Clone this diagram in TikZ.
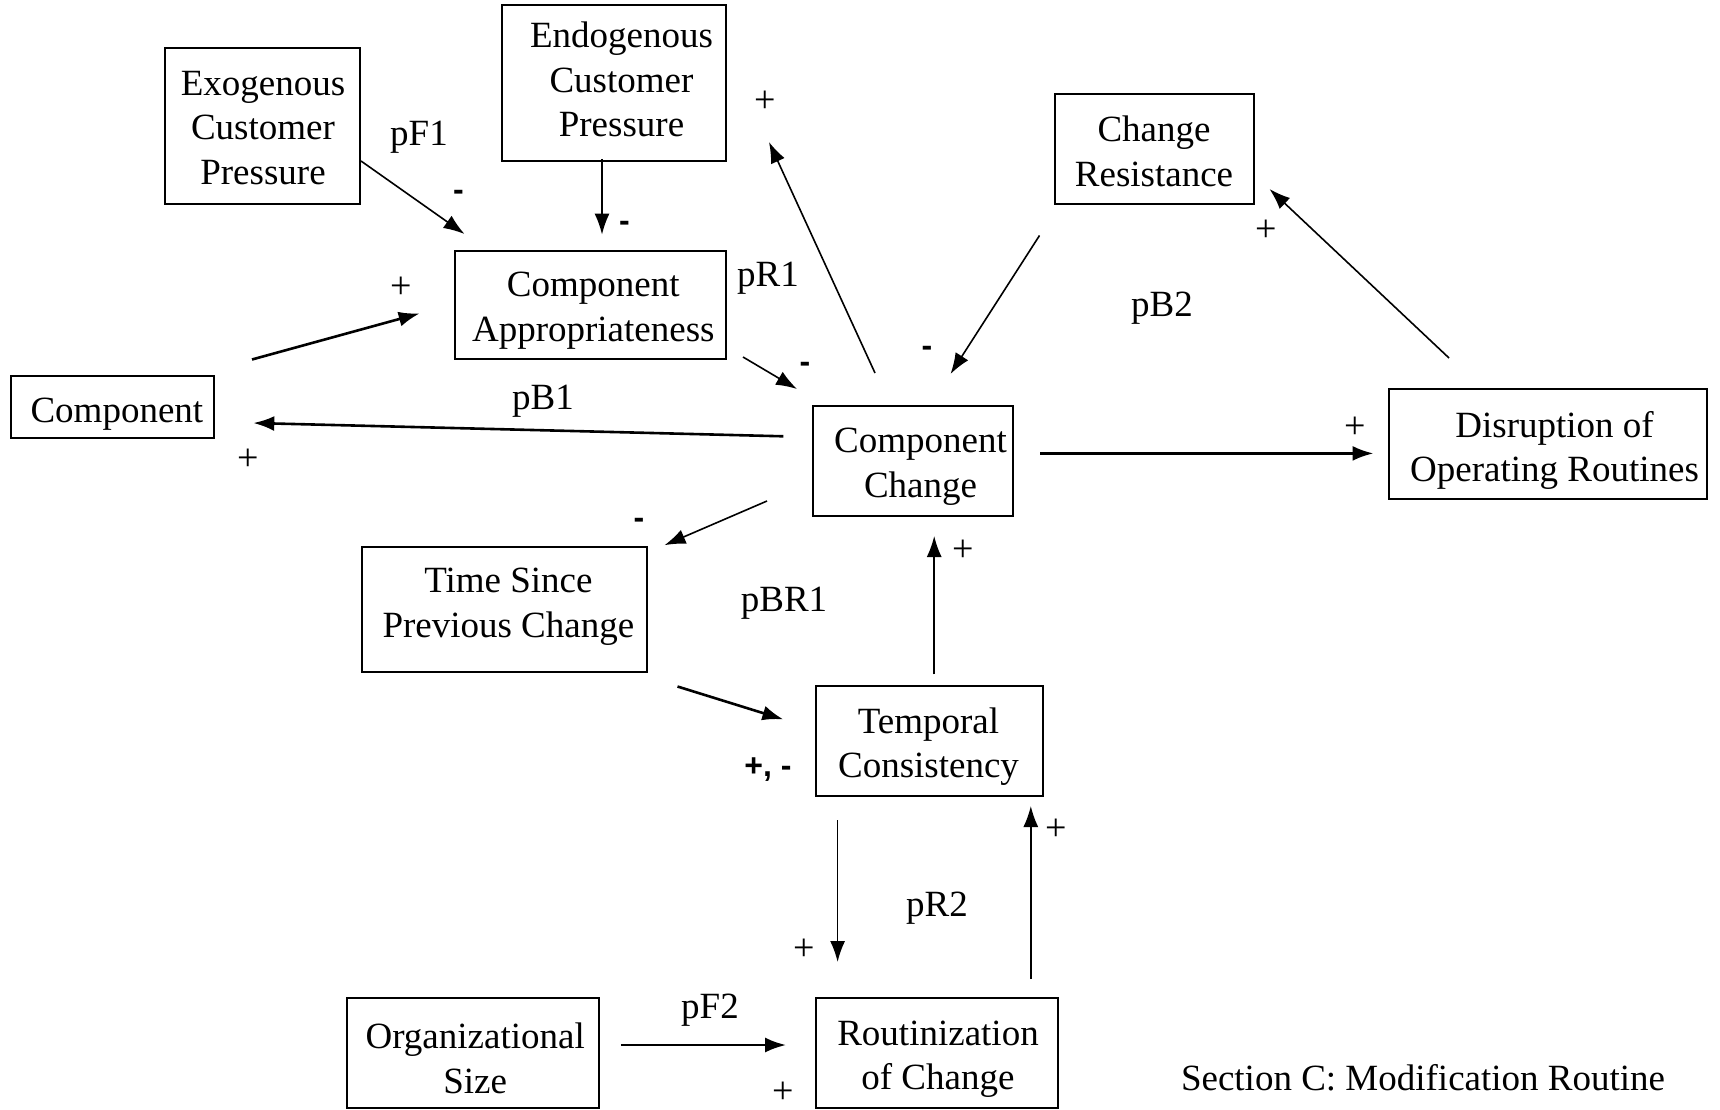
\documentclass[tikz,border=0pt]{standalone}
\usepackage{fontspec}
\setmainfont{Liberation Serif}
\newfontfamily\signfont{Liberation Sans}
\usetikzlibrary{arrows.meta,calc}

\begin{document}
\begin{tikzpicture}[x=1pt,y=-1pt,
  box/.style={draw,line width=2pt,inner sep=0pt},
  boxtext/.style={inner sep=0pt,align=center,font=\fontsize{37}{44.5}\selectfont},
  arr/.style={-{Latex[length=21pt,width=15pt]},line width=1.6pt},
  heavyarr/.style={arr,line width=2.6pt},
  lbl/.style={inner sep=0pt,font=\fontsize{37}{44.5}\selectfont},
  plus/.style={inner sep=0pt,font=\fontsize{38}{44}\selectfont},
  minus/.style={inner sep=0pt,font=\signfont\bfseries\fontsize{32}{40}\selectfont}
]
% canvas
\fill[white] (0,0) rectangle (1720,1110);
\useasboundingbox (0,0) rectangle (1720,1110);

% variables (box drawn by the node, its wording set as a centred label)
\node[box,minimum width=195pt,minimum height=156pt,
  label={[boxtext,xshift=1pt,yshift=-2pt]center:{Exogenous\\Customer\\Pressure}}] (exo) at (262,126) {};
\node[box,minimum width=224pt,minimum height=156pt,
  label={[boxtext,xshift=7.5pt,yshift=3.3pt]center:{Endogenous\\Customer\\Pressure}}] (endo) at (614,83) {};
\node[box,minimum width=199pt,minimum height=109pt,
  label={[boxtext,yshift=-2.2pt]center:{Change\\Resistance}}] (cres) at (1154,149) {};
\node[box,minimum width=271pt,minimum height=108pt,
  label={[boxtext,xshift=3.3pt,yshift=-5.5pt]center:{Component\\Appropriateness}}] (capp) at (590,305) {};
\node[box,minimum width=203pt,minimum height=62pt,
  label={[boxtext,xshift=4.4pt,yshift=-7.5pt]center:{Component}}] (comp) at (112.5,407) {};
\node[box,minimum width=200pt,minimum height=110pt,
  label={[boxtext,xshift=7.5pt,yshift=-5.5pt]center:{Component\\Change}}] (cchg) at (913,461) {};
\node[box,minimum width=318pt,minimum height=110pt,
  label={[boxtext,xshift=6.6pt,yshift=-6.6pt]center:{Disruption of\\Operating Routines}}] (disr) at (1548,444) {};
\node[box,minimum width=285pt,minimum height=125pt,
  label={[boxtext,xshift=4.4pt,yshift=2.2pt]center:{Time Since\\Previous Change}}] (time) at (504,609) {};
\node[box,minimum width=227pt,minimum height=110pt,
  label={[boxtext,xshift=-1pt,yshift=-5.5pt]center:{Temporal\\Consistency}}] (temp) at (929.5,741) {};
\node[box,minimum width=252pt,minimum height=110pt,
  label={[boxtext,xshift=2.2pt,yshift=-5.5pt]center:{Organizational\\Size}}] (org) at (473,1053) {};
\node[box,minimum width=242pt,minimum height=110pt,
  label={[boxtext,xshift=1pt,yshift=-6pt]center:{Routinization\\of Change}}] (rout) at (937,1053) {};

% causal links
\draw[arr] ($(exo.south east)+(0.5,-44)$) -- ($(capp.north west)+(11,-16)$);
\draw[arr] ($(endo.south)+(-12,-3)$) -- ($(capp.north)+(12,-15.4)$);
\draw[heavyarr] ($(comp.north east)+(37,-15.5)$) -- ($(capp.west)+(-33.8,8.4)$);
\draw[arr] ($(capp.south east)+(16.5,-3)$) -- ($(cchg.north west)+(-15,-16)$);
\draw[arr] ($(cchg.north)+(-38,-32)$) -- ($(endo.south east)+(42,-20)$);
\draw[arr] ($(cres.south west)+(-14,31)$) -- ($(cchg.north)+(37.5,-31)$);
\draw[arr] ($(disr.north west)+(61,-30)$) -- ($(cres.east)+(15,40)$);
\draw[heavyarr] ($(cchg.west)+(-28.6,-24.7)$) -- ($(comp.east)+(38.3,16)$);
\draw[heavyarr] ($(cchg.east)+(26.4,-7.6)$) -- ($(disr.west)+(-14.5,9.4)$);
\draw[arr] ($(cchg.south west)+(-45,-16)$) -- ($(time.north east)+(17,-0.3)$);
\draw[heavyarr] ($(time.south east)+(30,14)$) -- ($(temp.west)+(-31.6,-21.6)$);
\draw[arr] ($(temp.north)+(4.7,-10.6)$) -- ($(cchg.south)+(21.2,19)$);
\draw[arr] ($(temp.south west)+(22.6,23.2)$) -- ($(rout.north west)+(22.6,-35)$);
\draw[arr] ($(rout.north east)+(-28.2,-18)$) -- ($(temp.south east)+(-13.2,9)$);
\draw[heavyarr] ($(org.east)+(20.8,-8)$) -- ($(rout.west)+(-28.9,-8)$);

% link polarities
\node[minus] (m1) at (458.5,195) {-};
\node[minus] (m2) at (624.5,226) {-};
\node[plus]  (p1) at (401,288)   {+};
\node[minus] (m3) at (805,367)   {-};
\node[plus]  (p2) at (765,102)   {+};
\node[minus] (m4) at (927,351)   {-};
\node[plus]  (p3) at (1266,231)  {+};
\node[plus]  (p4) at (248,460)   {+};
\node[plus]  (p5) at (1355,428)  {+};
\node[minus] (m5) at (639,523)   {-};
\node[minus] (pm) at (768,770)   {+, -};
\node[plus]  (p6) at (963.5,551) {+};
\node[plus]  (p7) at (804,950)   {+};
\node[plus]  (p8) at (1056.5,830){+};
\node[plus]  (p9) at (783,1093)  {+};

% loop names
\node[lbl] (lf1)  at (419,137)   {pF1};
\node[lbl] (lr1)  at (768,278)   {pR1};
\node[lbl] (lb2)  at (1162,308)  {pB2};
\node[lbl] (lb1)  at (543,401)   {pB1};
\node[lbl] (lbr1) at (784,603)   {pBR1};
\node[lbl] (lr2)  at (937,908)   {pR2};
\node[lbl] (lf2)  at (710,1010)  {pF2};

% caption
\node[lbl] (cap) at (1423,1078) {Section C: Modification Routine};
\end{tikzpicture}
\end{document}
